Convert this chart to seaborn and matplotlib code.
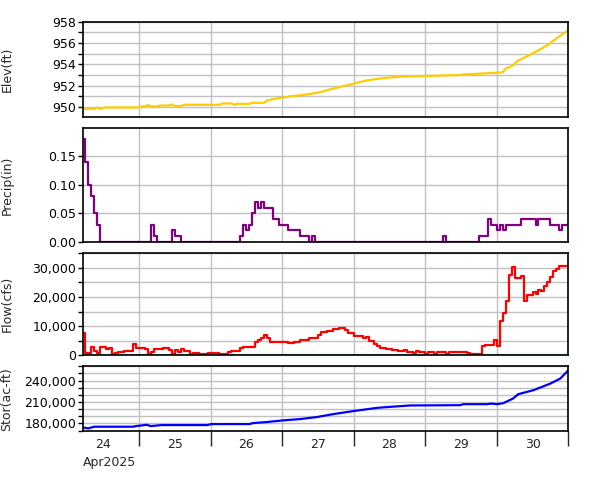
import numpy as np
import pandas as pd
import matplotlib
matplotlib.use("Agg")
import matplotlib.pyplot as plt
import matplotlib.ticker as mticker
import seaborn as sns

# ---------------- data (hours after 2025-04-24 05:00) ----------------
elev_hours = [0, 4, 5, 6, 8, 19, 20, 21, 22, 23, 25, 26, 29, 30, 31, 33, 34, 46, 47, 50, 51,
              52, 56, 57, 61, 62, 64, 67, 70, 73, 79, 84, 91, 95, 101, 107, 115, 127, 128,
              136, 141, 142, 144.5, 146, 151, 156, 159, 163]
elev_values = [949.85, 949.85, 949.97, 949.85, 949.97, 949.97, 950.07, 950.07, 950.2, 950.07,
               950.07, 950.15, 950.15, 950.25, 950.1, 950.1, 950.22, 950.22, 950.35, 950.35,
               950.22, 950.31, 950.31, 950.41, 950.41, 950.63, 950.75, 950.88, 951.03, 951.1,
               951.35, 951.73, 952.2, 952.48, 952.73, 952.86, 952.92, 953.01, 953.07, 953.17,
               953.26, 953.6, 953.92, 954.33, 955.02, 955.8, 956.43, 957.2]

precip_hours = [0, 1, 2, 3, 4, 5, 6, 23, 24, 25, 30, 31, 33, 53, 54, 55, 56, 57, 58, 59, 60,
                61, 64, 66, 69, 73, 76, 77, 78, 121, 122, 133, 136, 137, 139, 140, 141, 142,
                147, 152, 153, 157, 160, 161, 163]
precip_values = [0.18, 0.14, 0.10, 0.08, 0.05, 0.03, 0.0, 0.03, 0.01, 0.0, 0.02, 0.01, 0.0,
                 0.01, 0.03, 0.02, 0.03, 0.05, 0.07, 0.06, 0.07, 0.06, 0.04, 0.03, 0.02, 0.01,
                 0.0, 0.01, 0.0, 0.01, 0.0, 0.01, 0.04, 0.03, 0.02, 0.03, 0.02, 0.03, 0.04,
                 0.03, 0.04, 0.03, 0.02, 0.03, 0.03]

flow_hours = [0, 1, 3, 4, 5, 6, 8, 9, 10, 11, 12, 14, 17, 18, 19, 21, 22, 23, 24, 27, 29, 30,
              31, 32, 33, 34, 35, 36, 37, 39, 42, 46, 49, 50, 53, 54, 56, 58, 59, 60, 61, 62,
              63, 69, 71, 73, 76, 79, 80, 82, 84, 86, 88, 89, 91, 93, 94, 95, 96, 98, 99, 100,
              102, 104, 105, 106, 108, 109, 111, 112, 113, 115, 116, 118, 119, 120, 122, 123,
              124, 129, 130, 134, 135, 138, 139, 140, 141, 142, 143, 144, 145, 147, 148, 149,
              151, 152, 153, 154, 155, 156, 157, 158, 159, 160, 161, 163]
flow_values = [7500, 700, 2700, 1500, 700, 2700, 2000, 2500, 500, 800, 1300, 1500, 4000, 2400,
               2500, 2000, 500, 1200, 2000, 2500, 1800, 400, 1800, 1200, 2200, 1500, 1400, 600,
               800, 500, 700, 400, 1000, 1600, 2500, 2700, 3000, 4700, 5300, 6100, 6800, 6100,
               4700, 4300, 4700, 5400, 6100, 6900, 8100, 8500, 8900, 9200, 8800, 7600, 6500,
               6700, 5800, 6200, 4900, 4000, 3300, 2600, 2200, 1900, 1700, 1500, 1700, 1000,
               800, 1400, 1000, 600, 1000, 500, 1000, 1300, 600, 1100, 1300, 900, 500, 3200,
               3600, 5200, 3100, 11900, 14600, 18700, 27500, 30400, 26500, 27200, 18700, 20800,
               21700, 21000, 22400, 21900, 23700, 25100, 26900, 29000, 29600, 30800, 30500,
               30500]
base_hours = [0, 163]
base_values = [0, 0]

stor_hours = [0, 2, 4, 17, 18, 21.6, 23, 26.6, 42, 43.3, 56, 57.3, 61.8, 64, 67.4, 73, 78.6,
              84.2, 90.9, 99, 103.4, 110, 126.7, 127.8, 135.6, 137.3, 139, 141.2, 144.5, 146.2,
              151.3, 157, 160.3, 163]
stor_values = [174400, 173000, 175300, 175300, 176200, 178000, 176200, 177600, 177600, 179000,
               179000, 180400, 181800, 182800, 184200, 186000, 188800, 193000, 197200, 201800,
               203200, 205100, 205500, 206900, 206900, 207700, 206900, 208300, 214900, 220900,
               226500, 235800, 242800, 254400]

day_labels = ["24", "25", "26", "27", "28", "29", "30"]
month_label = "Apr2025"
ylabels = ["Elev(ft)", "Precip(in)", "Flow(cfs)", "Stor(ac-ft)"]

# ---------------- style ----------------
sns.set_style("ticks")
plt.rcParams["font.family"] = ["DejaVu Sans"]
plt.rcParams["font.size"] = 9

T0 = pd.Timestamp("2025-04-24 05:00")
def to_t(h):
    return T0 + pd.to_timedelta(np.asarray(h, dtype=float), unit="h")

W, H = 601, 480
fig = plt.figure(figsize=(W / 100, H / 100), dpi=100)
def rect(l, t, r, b):
    return [l / W, 1 - b / H, (r - l) / W, (b - t) / H]

axes = [fig.add_axes(rect(83.3, 21.7, 568.3, 117.3)),
        fig.add_axes(rect(83.3, 128.3, 568.3, 241.7)),
        fig.add_axes(rect(83.3, 253.3, 568.3, 355.3)),
        fig.add_axes(rect(83.3, 366.3, 568.3, 431))]

lw = 1.6
sns.lineplot(x=to_t(elev_hours), y=elev_values, ax=axes[0], color="#FFCC00", lw=lw,
             estimator=None)
sns.lineplot(x=to_t(precip_hours), y=precip_values, ax=axes[1], color="#800080", lw=lw,
             estimator=None, drawstyle="steps-post")
sns.lineplot(x=to_t(base_hours), y=base_values, ax=axes[2], color="#66CCCC", lw=lw,
             estimator=None)
sns.lineplot(x=to_t(flow_hours), y=flow_values, ax=axes[2], color="#FF0000", lw=lw,
             estimator=None, drawstyle="steps-post")
sns.lineplot(x=to_t(stor_hours), y=stor_values, ax=axes[3], color="#0000FF", lw=lw,
             estimator=None)

xmin = pd.Timestamp("2025-04-24 05:20")
xmax = pd.Timestamp("2025-05-01 00:00")
day_bounds = pd.date_range("2025-04-25", "2025-05-01", freq="D")
noons = pd.date_range("2025-04-24 12:00", "2025-04-30 12:00", freq="D")

def fmt_every(step, fmt):
    def f(v, pos):
        if abs(round(v / step) * step - v) < step * 1e-3:
            return fmt(v)
        return ""
    return mticker.FuncFormatter(f)

yspecs = [
    ((949.05, 958), np.arange(950, 958.5, 1), fmt_every(2, lambda v: "%d" % round(v))),
    ((0, 0.1995), [0, 0.05, 0.10, 0.15], mticker.FuncFormatter(lambda v, p: "%.2f" % v)),
    ((0, 35000), np.arange(0, 35001, 5000), fmt_every(10000, lambda v: "{:,}".format(int(round(v))))),
    ((169300, 260000), np.arange(170000, 260001, 10000),
     mticker.FuncFormatter(lambda v, p: "{:,}".format(int(round(v))) if int(round(v)) in (180000, 210000, 240000) else "")),
]

for i, ax in enumerate(axes):
    ylim, yt, yf = yspecs[i]
    ax.set_xlim(xmin, xmax)
    ax.set_ylim(*ylim)
    ax.set_yticks(yt)
    ax.yaxis.set_major_formatter(yf)
    ax.set_xticks(day_bounds)
    ax.grid(True, which="major", color="#C0C0C0", lw=1.0)
    ax.set_axisbelow(True)
    for s in ax.spines.values():
        s.set_visible(True)
        s.set_color("black")
        s.set_linewidth(1.2)
    ax.tick_params(axis="y", direction="out", length=3.6, width=1, pad=1.5,
                   labelsize=9, colors="black")
    ax.set_ylabel(ylabels[i], fontsize=9)
    ax.yaxis.set_label_coords(-0.144, 0.5)
    ax.set_xlabel("")
    if i < 3:
        ax.tick_params(axis="x", length=0, labelbottom=False)
    else:
        ax.tick_params(axis="x", which="major", direction="out", length=11, width=1,
                       labelbottom=False)
        ax.set_xticks(noons, minor=True)
        ax.set_xticklabels(day_labels, minor=True)
        ax.tick_params(axis="x", which="minor", length=0, pad=5, labelsize=9)
        ax.text(0, -0.48, month_label, transform=ax.transAxes, ha="left", va="center",
                fontsize=9)

fig.savefig("out.png", dpi=100)
